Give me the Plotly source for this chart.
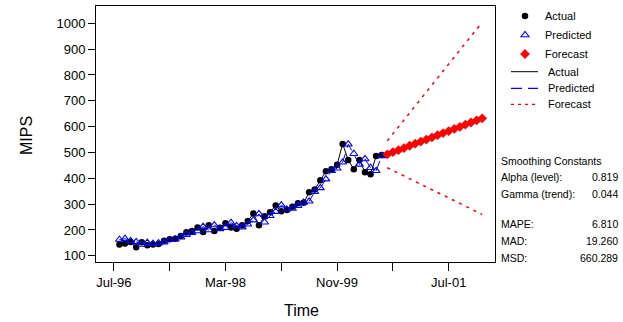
import plotly.graph_objects as go

# ---- data ----
actual_idx = list(range(1, 49))
actual = [144, 148, 153, 133, 152, 141, 144, 146, 158, 164, 166, 177, 191, 196, 210, 192,
          218, 196, 209, 226, 210, 205, 218, 235, 264, 218, 253, 269, 295, 272, 277, 290,
          303, 305, 346, 357, 392, 427, 435, 452, 533, 471, 435, 471, 423, 416, 486, 490]
predicted = [163, 166, 158, 154, 144, 151, 147, 149, 153, 162, 164, 172, 182, 189, 196, 213,
             200, 219, 204, 209, 228, 216, 211, 222, 238, 262, 230, 255, 271, 296, 280, 283,
             294, 307, 311, 348, 363, 397, 429, 439, 462, 532, 495, 454, 475, 441, 429, 487]
fc_idx = list(range(49, 67))
forecast = [493, 501, 509, 517, 526, 534, 542, 550, 558, 567, 575, 583, 591, 599, 608, 616, 624, 632]
upper = [545, 572, 599, 626, 654, 680, 707, 734, 760, 788, 815, 842, 869, 895, 923, 950, 976, 1004]
lower = [441, 430, 419, 408, 398, 388, 377, 366, 354, 345, 335, 324, 313, 302, 293, 282, 272, 260]

x_tickvals = [0, 10, 20, 30, 40, 50, 60]
x_ticktext = ["Jul-96", "", "Mar-98", "", "Nov-99", "", "Jul-01"]
y_tickvals = [100, 200, 300, 400, 500, 600, 700, 800, 900, 1000]

stats_labels = ["Smoothing Constants", "Alpha (level):", "Gamma (trend):", "MAPE:", "MAD:", "MSD:"]
stats_values = ["", "0.819", "0.044", "6.810", "19.260", "660.289"]

FONT = "Liberation Sans, Arial, sans-serif"
RED = "#ff0000"
BLUE = "#0000ff"

# plot area pixel geometry
L, R, T, B = 96, 495, 6, 262
W, H = 623, 322


def px(xp):
    return (xp - L) / (R - L)


def py(yp):
    return (B - yp) / (B - T)


fig = go.Figure()

# lines
fig.add_trace(go.Scatter(x=actual_idx, y=actual, mode="lines", line=dict(color="black", width=1),
                         showlegend=False, hoverinfo="skip"))
fig.add_trace(go.Scatter(x=actual_idx, y=predicted, mode="lines",
                         line=dict(color=BLUE, width=1, dash="11px,6px"),
                         showlegend=False, hoverinfo="skip"))
for series in (upper, lower, forecast):
    fig.add_trace(go.Scatter(x=fc_idx, y=series, mode="lines",
                             line=dict(color=RED, width=1.5, dash="3px,5px"),
                             showlegend=False, hoverinfo="skip"))

# markers
fig.add_trace(go.Scatter(x=actual_idx, y=actual, mode="markers", name="Actual",
                         marker=dict(symbol="circle", color="black", size=6.5)))
fig.add_trace(go.Scatter(x=actual_idx, y=predicted, mode="markers", name="Predicted",
                         marker=dict(symbol="triangle-up-open", color=BLUE, size=7,
                                     line=dict(width=1.1, color=BLUE))))
fig.add_trace(go.Scatter(x=fc_idx, y=forecast, mode="markers", name="Forecast",
                         marker=dict(symbol="diamond", color=RED, size=7.5)))

shapes = []
annotations = []

# manual line legend
line_legend = [("Actual", "black", "solid"), ("Predicted", BLUE, "11px,6px"),
               ("Forecast", RED, "3px,4px")]
for (name, col, dash), yy in zip(line_legend, [71.7, 88.3, 104.3]):
    shapes.append(dict(type="line", xref="paper", yref="paper",
                       x0=px(511), x1=px(538), y0=py(yy), y1=py(yy),
                       line=dict(color=col, width=1.2 if col != "black" else 1, dash=dash)))
    annotations.append(dict(text=name, xref="paper", yref="paper", x=px(546), y=py(yy),
                            xanchor="left", yanchor="middle", showarrow=False,
                            font=dict(family=FONT, size=11, color="black")))

# stats
for lab, val, yy in zip(stats_labels, stats_values, [161, 177, 194, 224, 241, 258]):
    annotations.append(dict(text=lab, xref="paper", yref="paper", x=px(499), y=py(yy),
                            xanchor="left", yanchor="middle", showarrow=False,
                            font=dict(family=FONT, size=10.5, color="black")))
    if val:
        annotations.append(dict(text=val, xref="paper", yref="paper", x=px(620), y=py(yy),
                                xanchor="right", yanchor="middle", showarrow=False,
                                font=dict(family=FONT, size=10.5, color="black")))

# axis titles
annotations.append(dict(text="MIPS", xref="paper", yref="paper", x=px(26), y=py(136),
                        xanchor="center", yanchor="middle", textangle=-90, showarrow=False,
                        font=dict(family=FONT, size=16, color="black")))
annotations.append(dict(text="Time", xref="paper", yref="paper", x=px(301), y=py(310),
                        xanchor="center", yanchor="middle", showarrow=False,
                        font=dict(family=FONT, size=16, color="black")))

fig.update_layout(
    width=W, height=H,
    margin=dict(l=L, r=W - R, t=T, b=H - B, pad=0),
    paper_bgcolor="white", plot_bgcolor="white",
    font=dict(family=FONT, size=13, color="black"),
    shapes=shapes, annotations=annotations,
    legend=dict(xref="container", yref="container", x=505 / W, y=1 - 1.5 / H,
                xanchor="left", yanchor="top", bgcolor="rgba(0,0,0,0)",
                font=dict(family=FONT, size=11, color="black"), borderwidth=0,
                tracegroupgap=0),
    xaxis=dict(range=[-3.2, 68.3], tickvals=x_tickvals, ticktext=x_ticktext,
               showgrid=False, zeroline=False, showline=True, mirror=True,
               linecolor="black", linewidth=1, ticks="outside", ticklen=8,
               tickcolor="black", tickwidth=1, tickfont=dict(size=13)),
    yaxis=dict(range=[76, 1067], tickvals=y_tickvals,
               showgrid=False, zeroline=False, showline=True, mirror=True,
               linecolor="black", linewidth=1, ticks="outside", ticklen=7,
               tickcolor="black", tickwidth=1, tickfont=dict(size=13)),
)

fig.write_html("out.html")
